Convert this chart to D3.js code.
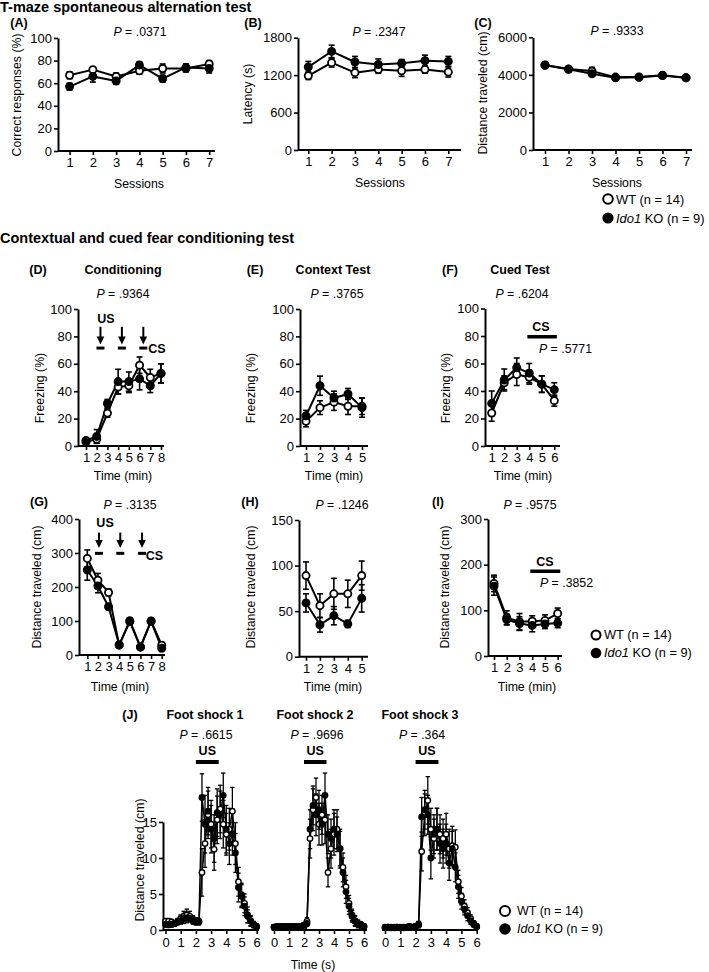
<!DOCTYPE html>
<html><head><meta charset="utf-8">
<script src="https://cdn.jsdelivr.net/npm/d3@7"></script>
<style>
body{margin:0;background:#fff}
text{font-family:"Liberation Sans",Arial,Helvetica,sans-serif;fill:#000}
</style></head><body>
<svg id="c" width="709" height="972" xmlns="http://www.w3.org/2000/svg"></svg>
<script>
// ---------------- DATA ----------------
const sessions = [1,2,3,4,5,6,7];
const aWT = [67,72,66,71,73,73,77], aWTe = [3,2,3,3,4,3,3];
const aKO = [57,66,62,76,64,74,73], aKOe = [3,5,3,3,3,3,4];
const bWT = [1190,1400,1240,1290,1270,1290,1250], bWTe = [60,70,80,60,90,60,80];
const bKO = [1330,1580,1410,1370,1390,1430,1420], bKOe = [90,100,90,90,60,90,80];
const cWT = [4520,4310,4200,3880,3880,3980,3850], cWTe = [80,80,200,90,80,100,80];
const cKO = [4510,4300,4060,3840,3870,3960,3840], cKOe = [80,80,120,120,80,80,80];

const min8 = [1,2,3,4,5,6,7,8], min5 = [1,2,3,4,5], min6 = [1,2,3,4,5,6];
const dWT = [3,5,24,43,44,59,50,53], dWTe = [2,3,3,5,5,6,6,7];
const dKO = [4,7,31,47,47,49,44,53], dKOe = [2,5,3,9,7,8,5,7];
const eWT = [18,28,32,29,29], eWTe = [4,5,6,6,6];
const eKO = [22,44,35,38,28], eKOe = [4,7,5,4,7];
const fWT = [24,46,52,50,45,33], fWTe = [6,5,8,5,6,4];
const fKO = [31,48,57,53,45,41], fKOe = [9,8,7,7,6,5];
const gWT = [284,220,184,29,101,24,100,29], gWTe = [25,20,10,5,8,5,5,8];
const gKO = [250,203,142,30,98,23,99,20], gKOe = [30,20,8,4,5,4,4,5];
const hWT = [89,56,69,69,89], hWTe = [15,13,17,15,16];
const hKO = [59,35,45,36,64], hKOe = [10,8,10,4,15];
const iWT = [159,84,75,76,78,93], iWTe = [18,15,18,12,12,12];
const iKO = [153,80,71,67,70,72], iKOe = [20,12,15,14,10,10];

const secs = [0,0.2,0.4,0.6,0.8,1,1.2,1.4,1.6,1.8,2,2.2,2.4,2.6,2.8,3,3.2,3.4,3.6,3.8,4,4.2,4.4,4.6,4.8,5,5.2,5.4,5.6,5.8,6];
const j1WT  = [1.2,1.2,1.1,0.9,1.2,1.6,1.9,2.1,1.9,1.5,1.3,1.2,8.0,12.0,16.0,14.7,11.2,15.3,16.8,14.7,13.3,14.0,16.5,12.0,6.7,4.9,3.7,2.1,1.3,0.8,0.5];
const j1WTe = [0.4,0.4,0.4,0.4,0.4,0.5,0.7,0.8,0.7,0.5,0.4,0.4,3.3,3.3,3.3,3.3,2.9,3.3,3.3,3.3,2.9,2.9,3.3,2.9,2.0,1.6,1.3,1.1,0.7,0.4,0.3];
const j1KO  = [0.8,0.7,0.8,0.9,1.1,1.3,1.6,1.7,1.6,1.3,1.1,1.1,18.4,14.7,16.5,14.0,12.7,16.3,16.0,18.7,14.0,12.0,13.3,10.7,5.9,4.7,3.3,1.9,1.2,0.7,0.4];
const j1KOe = [0.4,0.3,0.4,0.4,0.4,0.5,0.7,0.7,0.5,0.5,0.4,0.4,3.3,4.0,3.3,3.3,3.3,3.3,3.3,3.1,3.3,2.9,2.9,2.7,2.0,1.6,1.3,0.9,0.7,0.4,0.3];
const j2WT  = [0.4,0.5,0.4,0.5,0.4,0.5,0.4,0.5,0.4,0.5,0.5,1.2,12.7,16.7,18.4,14.7,16.0,15.3,8.0,11.3,13.3,14.0,11.3,8.7,6.0,3.7,2.1,1.3,0.9,0.7,0.5];
const j2WTe = [0.3,0.3,0.3,0.3,0.3,0.3,0.3,0.3,0.3,0.3,0.3,0.5,2.7,2.9,2.7,2.9,2.7,3.3,2.0,2.7,2.9,2.7,2.7,2.0,1.6,1.1,0.8,0.7,0.5,0.4,0.3];
const j2KO  = [0.4,0.4,0.5,0.4,0.5,0.4,0.5,0.4,0.5,0.4,0.7,0.9,14.0,17.3,16.0,16.7,14.7,18.7,13.3,12.7,14.0,13.3,11.3,8.0,5.3,3.3,1.9,1.2,0.8,0.7,0.5];
const j2KOe = [0.3,0.3,0.3,0.3,0.3,0.3,0.3,0.3,0.3,0.3,0.3,0.4,2.7,2.7,2.9,2.7,2.9,3.1,2.7,2.7,2.7,2.4,2.4,2.0,1.6,1.1,0.8,0.7,0.5,0.4,0.3];
const j3WT  = [0.3,0.4,0.4,0.3,0.4,0.4,0.3,0.4,0.4,0.4,0.5,0.8,10.9,16.0,18.0,14.0,12.7,14.0,13.3,12.7,13.3,11.3,11.7,11.5,6.7,4.7,3.3,2.4,1.6,0.9,0.5];
const j3WTe = [0.3,0.3,0.3,0.3,0.3,0.3,0.3,0.3,0.3,0.3,0.3,0.4,2.7,2.9,3.3,2.9,2.7,2.9,2.7,2.7,2.9,2.7,2.7,2.4,1.6,1.2,0.9,0.7,0.5,0.4,0.3];
const j3KO  = [0.4,0.4,0.3,0.4,0.4,0.3,0.4,0.4,0.5,0.4,0.5,0.7,15.7,16.7,16.0,10.0,13.3,14.0,12.0,11.3,12.0,9.3,11.3,8.7,6.0,4.0,2.9,2.0,1.3,0.8,0.4];
const j3KOe = [0.3,0.3,0.3,0.3,0.3,0.3,0.3,0.3,0.3,0.3,0.3,0.4,2.7,2.7,2.7,2.9,2.7,2.9,2.7,2.7,2.7,2.4,2.4,2.0,1.6,1.1,0.8,0.7,0.5,0.4,0.3];

const legendWT = "WT (n = 14)", legendKO = " KO (n = 9)";

// ---------------- DRAW ----------------
const svg = d3.select('#c');
svg.append('rect').attr('width',709).attr('height',972).attr('fill','#fff');

function txt(x, y, s, o = {}) {
  const t = svg.append('text').attr('x', x).attr('y', y).attr('dy', '0.35em')
    .attr('text-anchor', o.anchor || 'middle')
    .attr('font-size', o.size || 12.3)
    .attr('font-weight', o.bold ? 'bold' : 'normal');
  if (o.rot) t.attr('transform', `rotate(-90,${x},${y})`);
  t.text(s);
  return t;
}
function ptxt(x, y, val, anchor = 'middle') {
  const t = svg.append('text').attr('x', x).attr('y', y).attr('dy', '0.35em')
    .attr('text-anchor', anchor).attr('font-size', 12.3);
  t.append('tspan').attr('font-style', 'italic').text('P');
  t.append('tspan').text(' = ' + val);
}

function panel(cfg, xs, wt, wte, ko, koe) {
  const g = svg.append('g');
  const x = d3.scaleLinear().domain(cfg.xd).range(cfg.xp);
  const y = d3.scaleLinear().domain([0, cfg.ymax]).range(cfg.yp);
  const lw = cfg.lw || 2, r = cfg.r || 3.6, cap = cfg.cap || 3;
  const xa = g.append('g').attr('transform', `translate(0,${cfg.yp[0]})`)
    .call(d3.axisBottom(x).tickValues(cfg.xt).tickSize(4).tickPadding(cfg.xpad || 3).tickFormat(d => d));
  xa.select('.domain').remove();
  xa.selectAll('line').attr('stroke', '#000').attr('stroke-width', 1.6);
  xa.selectAll('text').attr('font-size', 13).attr('font-family', '"Liberation Sans",Arial,sans-serif');
  g.append('line').attr('x1', cfg.xl[0]).attr('x2', cfg.xl[1])
    .attr('y1', cfg.yp[0]).attr('y2', cfg.yp[0]).attr('stroke', '#000').attr('stroke-width', 2);
  if (cfg.ax !== undefined) {
    const ya = g.append('g').attr('transform', `translate(${cfg.ax},0)`)
      .call(d3.axisLeft(y).tickValues(cfg.yt).tickSize(4).tickSizeOuter(0).tickPadding(2).tickFormat(d => d));
    ya.select('.domain').attr('stroke-width', 2).attr('stroke', '#000');
    ya.selectAll('.tick line').attr('stroke', '#000').attr('stroke-width', 1.6);
    ya.selectAll('text').attr('font-size', 13).attr('font-family', '"Liberation Sans",Arial,sans-serif');
  }
  [[wt, wte], [ko, koe]].forEach(([v, e]) => {
    xs.forEach((t, i) => {
      const cx = x(t), y1 = y(v[i] - e[i]), y2 = y(v[i] + e[i]);
      g.append('line').attr('x1', cx).attr('x2', cx).attr('y1', y1).attr('y2', y2)
        .attr('stroke', '#000').attr('stroke-width', cfg.ew || 1.6);
      [y1, y2].forEach(yy => g.append('line').attr('x1', cx - cap).attr('x2', cx + cap)
        .attr('y1', yy).attr('y2', yy).attr('stroke', '#000').attr('stroke-width', cfg.ew || 1.6));
    });
  });
  const line = d3.line().x((d, i) => x(xs[i])).y(d => y(d));
  [wt, ko].forEach(v => g.append('path').attr('d', line(v)).attr('fill', 'none')
    .attr('stroke', '#000').attr('stroke-width', lw).attr('stroke-linejoin', 'round'));
  [[wt, '#fff'], [ko, '#000']].forEach(([v, f]) => {
    g.selectAll(null).data(v).enter().append('circle')
      .attr('cx', (d, i) => x(xs[i])).attr('cy', d => y(d)).attr('r', r)
      .attr('fill', f).attr('stroke', '#000').attr('stroke-width', cfg.cw || 1.8);
  });
  return { x, y, g };
}

function legend(x, y1, y2, r, tx, size) {
  svg.append('circle').attr('cx', x).attr('cy', y1).attr('r', r).attr('fill', '#fff').attr('stroke', '#000').attr('stroke-width', 2);
  svg.append('circle').attr('cx', x).attr('cy', y2).attr('r', r + 0.8).attr('fill', '#000');
  txt(tx, y1, legendWT, { anchor: 'start', size });
  const t = svg.append('text').attr('x', tx).attr('y', y2).attr('dy', '0.35em').attr('font-size', size);
  t.append('tspan').attr('font-style', 'italic').text('Ido1');
  t.append('tspan').text(legendKO);
}

function arrows(p, ts, yTop, yTip, yDash) {
  ts.forEach(t => {
    const cx = p.x(t);
    p.g.append('line').attr('x1', cx).attr('x2', cx).attr('y1', p.y(yTop)).attr('y2', p.y(yTip) - 6)
      .attr('stroke', '#000').attr('stroke-width', 2);
    const tip = p.y(yTip);
    p.g.append('path').attr('d', `M${cx - 3.8},${tip - 8}L${cx + 3.8},${tip - 8}L${cx},${tip}Z`).attr('fill', '#000');
    p.g.append('rect').attr('x', cx - 4).attr('y', p.y(yDash) - 1.5).attr('width', 8).attr('height', 3).attr('fill', '#000');
  });
}

// Titles
txt(0, 7, 'T-maze spontaneous alternation test', { anchor: 'start', size: 14.5, bold: true });
txt(0, 238, 'Contextual and cued fear conditioning test', { anchor: 'start', size: 14.5, bold: true });

// A
panel({ xd: [1, 7], xp: [69.6, 209.2], xl: [58, 215], xt: sessions, ymax: 100, yp: [151, 38], yt: [0, 20, 40, 60, 80, 100], ax: 58 }, sessions, aWT, aWTe, aKO, aKOe);
txt(19, 23, '(A)', { bold: true, size: 12.5 });
ptxt(140, 32, '.0371');
txt(17, 95, 'Correct responses (%)', { rot: true });
txt(139, 184, 'Sessions');
// B
panel({ xd: [1, 7], xp: [308.3, 448.3], xl: [298, 461], xt: sessions, ymax: 1800, yp: [150, 37.7], yt: [0, 600, 1200, 1800], ax: 298 }, sessions, bWT, bWTe, bKO, bKOe);
txt(253, 23, '(B)', { bold: true, size: 12.5 });
ptxt(379, 32, '.2347');
txt(248, 94, 'Latency (s)', { rot: true });
txt(380, 183, 'Sessions');
// C
panel({ xd: [1, 7], xp: [545, 686], xl: [533, 692], xt: sessions, ymax: 6000, yp: [150, 37.3], yt: [0, 2000, 4000, 6000], ax: 533 }, sessions, cWT, cWTe, cKO, cKOe);
txt(483, 23, '(C)', { bold: true, size: 12.5 });
ptxt(617, 31, '.9333');
txt(483, 93, 'Distance traveled (cm)', { rot: true });
txt(617, 183, 'Sessions');
legend(608, 199, 218, 4.8, 616, 12.9);

// D
const pD = panel({ xd: [1, 8], xp: [86, 161], xl: [78, 164], xt: min8, ymax: 100, yp: [446, 309], yt: [0, 20, 40, 60, 80, 100], ax: 78 }, min8, dWT, dWTe, dKO, dKOe);
txt(38, 270, '(D)', { bold: true, size: 12.5 });
txt(123, 270, 'Conditioning', { bold: true, size: 12.5 });
ptxt(123, 294, '.9364');
txt(40, 388, 'Freezing (%)', { rot: true });
txt(123, 476, 'Time (min)');
arrows(pD, [2.35, 4.35, 6.35], 87, 74, 71.5);
txt(pD.x(2.85), pD.y(93), 'US', { bold: true, size: 12.5 });
txt(pD.x(6.8), pD.y(71), 'CS', { bold: true, size: 12.5, anchor: 'start' });

// E
panel({ xd: [1, 5], xp: [306, 362], xl: [300, 368], xt: min5, ymax: 100, yp: [446, 309], yt: [0, 20, 40, 60, 80, 100], ax: 300 }, min5, eWT, eWTe, eKO, eKOe);
txt(255, 270, '(E)', { bold: true, size: 12.5 });
txt(333, 270, 'Context Test', { bold: true, size: 12.5 });
ptxt(337, 294, '.3765');
txt(251, 388, 'Freezing (%)', { rot: true });
txt(334, 476, 'Time (min)');

// F
const pF = panel({ xd: [1, 6], xp: [491.7, 554.3], xl: [485, 560], xt: min6, ymax: 100, yp: [446, 308.5], yt: [0, 20, 40, 60, 80, 100], ax: 485 }, min6, fWT, fWTe, fKO, fKOe);
txt(450, 270, '(F)', { bold: true, size: 12.5 });
txt(520, 270, 'Cued Test', { bold: true, size: 12.5 });
ptxt(522, 294, '.6204');
txt(446, 388, 'Freezing (%)', { rot: true });
txt(523, 476, 'Time (min)');
pF.g.append('rect').attr('x', pF.x(3.85)).attr('y', 335).attr('width', pF.x(6.2) - pF.x(3.85)).attr('height', 3.5).attr('fill', '#000');
txt(541, 327, 'CS', { bold: true, size: 12.5 });
ptxt(539, 349, '.5771', 'start');

// G
const pG = panel({ xd: [1, 8], xp: [87.3, 161.7], xl: [79, 165], xt: min8, ymax: 400, yp: [655, 519], yt: [0, 100, 200, 300, 400], ax: 79 }, min8, gWT, gWTe, gKO, gKOe);
txt(39, 502, '(G)', { bold: true, size: 12.5 });
ptxt(130, 505, '.3135');
txt(37, 587, 'Distance traveled (cm)', { rot: true });
txt(120, 687, 'Time (min)');
arrows(pG, [2.1, 4.1, 6.15], 360, 315, 299);
txt(pG.x(2.67), pG.y(388), 'US', { bold: true, size: 12.5 });
txt(pG.x(6.5), pG.y(293), 'CS', { bold: true, size: 12.5, anchor: 'start' });

// H
panel({ xd: [1, 5], xp: [306, 361.7], xl: [299, 368], xt: min5, ymax: 150, yp: [656.7, 520], yt: [0, 50, 100, 150], ax: 299 }, min5, hWT, hWTe, hKO, hKOe);
txt(250, 502, '(H)', { bold: true, size: 12.5 });
ptxt(342, 505, '.1246');
txt(251, 587, 'Distance traveled (cm)', { rot: true });
txt(333, 687, 'Time (min)');

// I
const pI = panel({ xd: [1, 6], xp: [494, 557.7], xl: [488, 562], xt: min6, ymax: 300, yp: [656, 519], yt: [0, 100, 200, 300], ax: 488 }, min6, iWT, iWTe, iKO, iKOe);
txt(438, 502, '(I)', { bold: true, size: 12.5 });
ptxt(530, 505, '.9575');
txt(445, 587, 'Distance traveled (cm)', { rot: true });
txt(527, 687, 'Time (min)');
pI.g.append('rect').attr('x', pI.x(3.85)).attr('y', 569.5).attr('width', pI.x(6.2) - pI.x(3.85)).attr('height', 3.5).attr('fill', '#000');
txt(545, 562, 'CS', { bold: true, size: 12.5 });
ptxt(540, 583, '.3852', 'start');
legend(596, 635, 653, 4.5, 604, 12.8);

// J
const jcfg = { xd: [0, 6], xt: [0, 1, 2, 3, 4, 5, 6], ymax: 15, yp: [930, 822], yt: [0, 5, 10, 15], lw: 1.5, r: 2.7, cap: 2.2, ew: 1.3, cw: 1.4, xpad: 4 };
const j1 = panel(Object.assign({}, jcfg, { xp: [165.5, 256.7], xl: [163, 259], ax: 163 }), secs, j1WT, j1WTe, j1KO, j1KOe);
const j2 = panel(Object.assign({}, jcfg, { xp: [274, 364], xl: [271.7, 367] }), secs, j2WT, j2WTe, j2KO, j2KOe);
const j3 = panel(Object.assign({}, jcfg, { xp: [385, 476.7], xl: [382, 478] }), secs, j3WT, j3WTe, j3KO, j3KOe);
txt(130, 715, '(J)', { bold: true, size: 12.5 });
[[j1, 'Foot shock 1', 205, '.6615', 206], [j2, 'Foot shock 2', 315, '.9696', 317], [j3, 'Foot shock 3', 420, '.364', 422]].forEach(([p, name, cx, pv, px]) => {
  txt(cx, 715, name, { bold: true, size: 12.5 });
  ptxt(px, 735, pv);
  p.g.append('rect').attr('x', p.x(2)).attr('y', 760).attr('width', p.x(3.5) - p.x(2)).attr('height', 4).attr('fill', '#000');
  txt(p.x(2.75), 751, 'US', { bold: true, size: 12.5 });
});
txt(140, 860, 'Distance traveled (cm)', { rot: true });
txt(313, 965, 'Time (s)');
legend(505, 911, 929, 5, 517, 12.5);
</script>
</body></html>
